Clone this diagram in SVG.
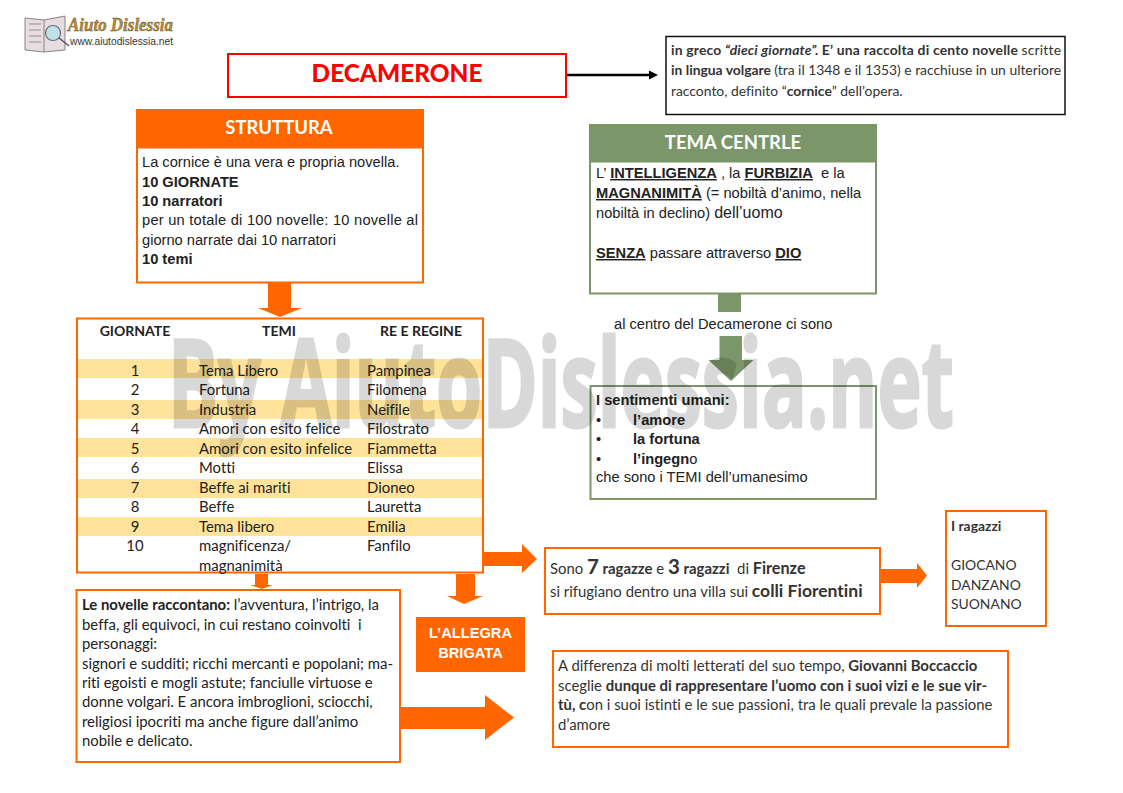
<svg xmlns="http://www.w3.org/2000/svg" width="1123" height="793" viewBox="0 0 1123 793">
<style>
text{white-space:pre;font-variant-ligatures:none}
.c{font-family:"Lato","Open Sans",sans-serif;font-size:14.9px;fill:#222}
.t{font-family:"Lato","Open Sans",sans-serif;font-size:14px;fill:#222}
.d{font-family:"Lato","Open Sans",sans-serif;font-size:14.9px;fill:#333}
.e{font-family:"Lato","Open Sans",sans-serif;font-size:13.9px;fill:#333}
.a{font-family:"Liberation Sans",Arial,sans-serif;font-size:14.67px;fill:#222}
.b{font-weight:700}
.u{text-decoration:underline}
.m{text-anchor:middle}
.h{font-family:"Lato","Open Sans",sans-serif;font-size:18.5px;font-weight:700;fill:#fff;text-anchor:middle}
.o{fill:#fff;stroke:#f60;stroke-width:2}
.g{fill:#fff;stroke:#7b9669;stroke-width:2}
.of{fill:#f60}
.gf{fill:#7b9669}
.y{fill:#ffe39b}
</style>
<rect width="1123" height="793" fill="#fff"/>

<g id="logo">
<path d="M25 18L44 20L65 16V50L44 52L25 50Z" fill="#e6dde0" stroke="#8d7f86"/>
<path d="M44 20V52" stroke="#8d7f86"/>
<path d="M29 24H41M29 30H41M29 36H41M29 42H41" stroke="#b3a6ac" stroke-width="1.500"/>
<circle cx="53" cy="33" r="7.500" fill="#bfe3e6" stroke="#6b6b78" stroke-width="1.200"/>
<path d="M59 38L69 46" stroke="#5b4a5a" stroke-width="1.400"/>
<text x="68" y="31" font-family="'Liberation Serif',serif" font-style="italic" font-weight="700" font-size="18" fill="#b48a3c" stroke="#6b5320" stroke-width=".4" textLength="105" lengthAdjust="spacingAndGlyphs">Aiuto Dislessia</text>
<text x="70" y="45" font-family="'Liberation Sans',sans-serif" font-size="10" fill="#333" textLength="103" lengthAdjust="spacingAndGlyphs">www.aiutodislessia.net</text>
</g>

<g id="connectors">
<path d="M567 75H650" stroke="#000" stroke-width="2.500" fill="none"/>
<path d="M649 70.500L658 75L649 79.500Z" fill="#000"/>
<path class="of" d="M268 283H291V308H302L280 317L258 308H268Z"/>
<path class="gf" d="M718 294H741V312H718Z"/>
<path class="gf" d="M719.500 336H742V360H753.500L731 381L708.500 360H719.500Z"/>
<path class="of" d="M483 552H522V544L537 559L522 573V566H483Z"/>
<path class="of" d="M255 574H268V585H273L262 589L250 585H255Z"/>
<path class="of" d="M456 574H475V596H483L464 604L447 596H456Z"/>
<path class="of" d="M881 569H917V563L927 575.500L917 588V583H881Z"/>
<path class="of" d="M401 707H485V695L514 717.500L485 740V729H401Z"/>
</g>

<g id="decamerone">
<rect x="228" y="54" width="338" height="43" fill="#fff" stroke="#f00" stroke-width="2"/>
<text x="397" y="82" class="m" font-weight="900" font-family="Lato,'Open Sans',sans-serif" font-size="24.400" fill="#f00">DECAMERONE</text>
</g>

<g id="info">
<rect x="666" y="36.500" width="399" height="78" fill="#fff" stroke="#111" stroke-width="1.500"/>
<text x="671" y="54.500" class="e" textLength="390"><tspan class="b">in greco </tspan><tspan class="b" font-style="italic">“dieci giornate”. </tspan><tspan class="b">E’ una raccolta di cento novelle </tspan>scritte</text>
<text x="671" y="75" class="e" textLength="390"><tspan class="b">in lingua volgare </tspan>(tra il 1348 e il 1353) e racchiuse in un ulteriore</text>
<text x="671" y="95.500" class="e">racconto, definito “<tspan class="b">cornice</tspan>” dell’opera.</text>
</g>

<g id="struttura">
<rect class="o" x="137" y="110" width="286" height="172.500"/>
<rect class="of" x="136" y="109.500" width="288" height="39"/>
<text x="279" y="134" class="h">STRUTTURA</text>
<text x="142" y="167" class="a">La cornice è una vera e propria novella.</text>
<text x="142" y="187" class="a b">10 GIORNATE</text>
<text x="142" y="206" class="a b">10 narratori</text>
<text x="142" y="225" class="a" textLength="276">per un totale di 100 novelle: 10 novelle al</text>
<text x="142" y="245" class="a">giorno narrate dai 10 narratori</text>
<text x="142" y="264" class="a b">10 temi</text>
</g>

<g id="tema">
<rect class="g" x="590" y="125" width="286" height="168.500"/>
<rect class="gf" x="589.500" y="124.500" width="287" height="38"/>
<text x="733" y="149" class="h">TEMA CENTRLE</text>
<text x="596" y="178" class="a">L’ <tspan class="b u">INTELLIGENZA</tspan> , la <tspan class="b u">FURBIZIA</tspan>  e la</text>
<text x="596" y="198" class="a"><tspan class="b u">MAGNANIMITÀ</tspan> (= nobiltà d’animo, nella</text>
<text x="596" y="218" class="a">nobiltà in declino) <tspan font-size="16">dell’uomo</tspan></text>
<text x="596" y="258" class="a"><tspan class="b u">SENZA</tspan> passare attraverso <tspan class="b u">DIO</tspan></text>
</g>

<g id="centro-label">
<text x="614" y="329" class="a">al centro del Decamerone ci sono</text>
</g>

<g id="sentimenti">
<rect class="g" x="590.500" y="386" width="285.500" height="113"/>
<text x="596" y="405" class="a b">I sentimenti umani:</text>
<text x="596" y="425" class="a" font-size="18">•</text><text x="633" y="425" class="a b">l’amore</text>
<text x="596" y="444" class="a">•</text><text x="633" y="444" class="a b">la fortuna</text>
<text x="596" y="464" class="a">•</text><text x="633" y="464" class="a"><tspan class="b">l’ingegn</tspan>o</text>
<text x="596" y="482" class="a">che sono i TEMI dell’umanesimo</text>
</g>

<g id="tabella">
<rect class="o" x="77" y="318.500" width="406" height="254"/>
<rect class="y" x="78" y="359" width="404" height="19"/>
<rect class="y" x="78" y="400" width="404" height="19"/>
<rect class="y" x="78" y="438" width="404" height="19"/>
<rect class="y" x="78" y="479" width="404" height="19"/>
<rect class="y" x="78" y="517" width="404" height="19"/>
<text x="135" y="336" class="t b m">GIORNATE</text><text x="279" y="336" class="t b m">TEMI</text><text x="421" y="336" class="t b m">RE E REGINE</text>
<text x="135" y="375.500" class="c m">1</text><text x="199" y="375.500" class="c">Tema Libero</text><text x="367" y="375.500" class="c">Pampinea</text>
<text x="135" y="395" class="c m">2</text><text x="199" y="395" class="c">Fortuna</text><text x="367" y="395" class="c">Filomena</text>
<text x="135" y="414.500" class="c m">3</text><text x="199" y="414.500" class="c">Industria</text><text x="367" y="414.500" class="c">Neifile</text>
<text x="135" y="434" class="c m">4</text><text x="199" y="434" class="c">Amori con esito felice</text><text x="367" y="434" class="c">Filostrato</text>
<text x="135" y="453.500" class="c m">5</text><text x="199" y="453.500" class="c">Amori con esito infelice</text><text x="367" y="453.500" class="c">Fiammetta</text>
<text x="135" y="473" class="c m">6</text><text x="199" y="473" class="c">Motti</text><text x="367" y="473" class="c">Elissa</text>
<text x="135" y="492.500" class="c m">7</text><text x="199" y="492.500" class="c">Beffe ai mariti</text><text x="367" y="492.500" class="c">Dioneo</text>
<text x="135" y="512" class="c m">8</text><text x="199" y="512" class="c">Beffe</text><text x="367" y="512" class="c">Lauretta</text>
<text x="135" y="531.500" class="c m">9</text><text x="199" y="531.500" class="c">Tema libero</text><text x="367" y="531.500" class="c">Emilia</text>
<text x="135" y="551" class="c m">10</text><text x="199" y="551" class="c">magnificenza/</text><text x="367" y="551" class="c">Fanfilo</text>
<text x="199" y="570.500" class="c">magnanimità</text>
</g>

<g id="novelle">
<rect class="o" x="76.500" y="590" width="323.500" height="172"/>
<text x="82" y="610" class="c"><tspan class="b">Le novelle raccontano: </tspan>l’avventura, l’intrigo, la</text>
<text x="82" y="630" class="c">beffa, gli equivoci, in cui restano coinvolti  i</text>
<text x="82" y="649" class="c">personaggi:</text>
<text x="82" y="668.500" class="c">signori e sudditi; ricchi mercanti e popolani; ma-</text>
<text x="82" y="688" class="c">riti egoisti e mogli astute; fanciulle virtuose e</text>
<text x="82" y="707" class="c">donne volgari. E ancora imbroglioni, sciocchi,</text>
<text x="82" y="727" class="c">religiosi ipocriti ma anche figure dall’animo</text>
<text x="82" y="746" class="c">nobile e delicato.</text>
</g>

<g id="allegra">
<rect class="of" x="416" y="617" width="109" height="55"/>
<text x="470.500" y="638" class="a b m" style="fill:#fff">L’ALLEGRA</text>
<text x="470.500" y="658" class="a b m" style="fill:#fff">BRIGATA</text>
</g>

<g id="sono">
<rect class="o" x="545" y="548" width="335" height="66"/>
<text x="550" y="574" class="d">Sono <tspan class="b" font-size="20.500">7</tspan><tspan class="b"> ragazze</tspan> e <tspan class="b" font-size="20.500">3</tspan><tspan class="b"> ragazzi</tspan>  di <tspan class="b" font-size="16.200">Firenze</tspan></text>
<text x="550" y="597" class="d">si rifugiano dentro una villa sui <tspan class="b" font-size="17.500">colli Fiorentini</tspan></text>
</g>

<g id="ragazzi">
<rect class="o" x="946" y="511" width="100" height="115"/>
<text x="951" y="531" class="e b">I ragazzi</text>
<text x="951" y="570" class="e">GIOCANO</text>
<text x="951" y="589.500" class="e">DANZANO</text>
<text x="951" y="609" class="e">SUONANO</text>
</g>

<g id="boccaccio">
<rect class="o" x="553" y="651" width="455" height="96"/>
<text x="558" y="671" class="d">A differenza di molti letterati del suo tempo, <tspan class="b">Giovanni Boccaccio</tspan></text>
<text x="558" y="690.500" class="d">sceglie <tspan class="b">dunque di rappresentare l’uomo con i suoi vizi e le sue vir-</tspan></text>
<text x="558" y="710" class="d"><tspan class="b">tù, c</tspan>on i suoi istinti e le sue passioni, tra le quali prevale la passione</text>
<text x="558" y="729.500" class="d">d’amore</text>
</g>

<g id="watermark" opacity=".15">
<text x="168" y="427" font-family="'Open Sans',sans-serif" font-weight="700" font-size="122" fill="#000" stroke="#000" stroke-width="3" textLength="786" lengthAdjust="spacingAndGlyphs">By AiutoDislessia.net</text>
</g>
</svg>
